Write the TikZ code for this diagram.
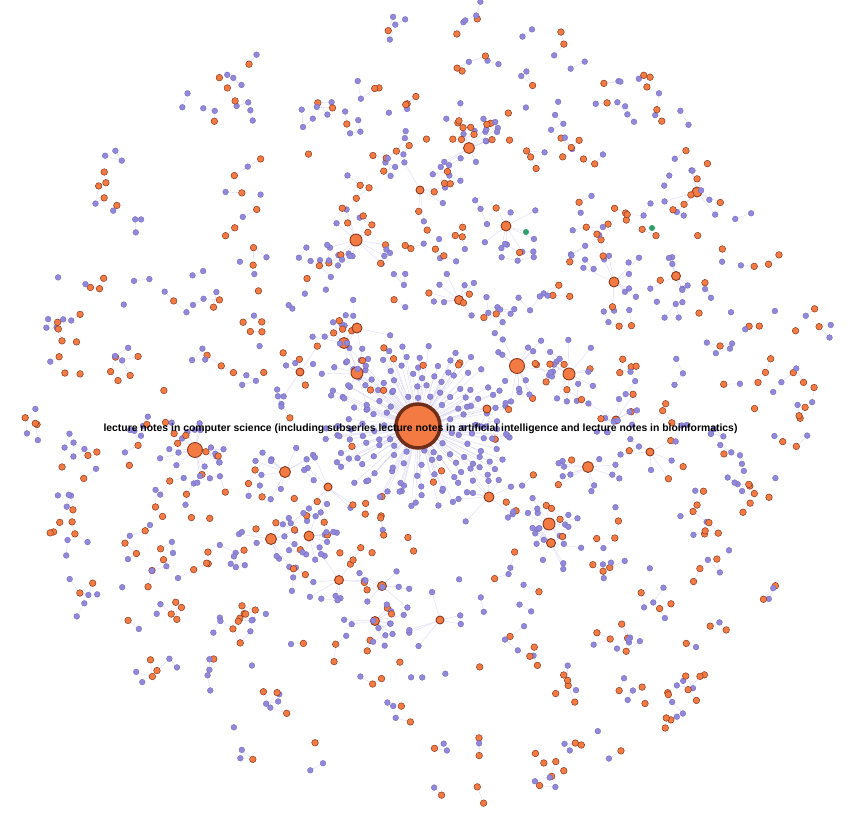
\documentclass[tikz,border=0pt]{standalone}
\usepackage{fontspec}
\setmainfont{Liberation Sans}
\definecolor{pfill}{HTML}{9188DA}
\definecolor{pdraw}{HTML}{6F67BE}
\definecolor{ofill}{HTML}{F47A43}
\definecolor{odraw}{HTML}{8B3A1E}
\definecolor{ecol}{HTML}{DAD6F4}
\definecolor{gfill}{HTML}{2E9E6B}
\definecolor{cbord}{HTML}{6E2E1A}
\tikzset{
  pn/.style={circle,inner sep=0pt,minimum size=5.8pt,fill=pfill,draw=pdraw,line width=0.3pt},
  on/.style={circle,inner sep=0pt,minimum size=6.6pt,fill=ofill,draw=odraw,line width=0.5pt},
  hubnode/.style={circle,inner sep=0pt,fill=ofill,draw=odraw,line width=0.9pt},
  gn/.style={circle,inner sep=0pt,minimum size=6pt,fill=gfill,draw=none},
  ed/.style={draw=ecol,line width=0.35pt},
  ghost/.style={draw=none,fill=none},
  vis/.style={},
}
\newif\ifedgepass
\def\mygraph{%
\pgfmathsetseed{4242}%
\foreach \rr/\nn [count=\q] in {33/15, 45/21, 57/26, 69/31, 81/36, 93/30}{
  \pgfmathsetmacro\off{360*rnd}
  \foreach \i in {1,...,\nn}{
    \pgfmathsetmacro\t{\off+360*\i/\nn+8*rand}
    \pgfmathsetmacro\rj{\rr+3*rand}
    \pgfmathsetmacro\cx{418+\rj*cos(\t)}
    \pgfmathsetmacro\cy{425+0.86*\rj*sin(\t)}
    \pgfmathsetmacro\c{rnd}
    \ifdim\c pt<0.93pt \def\st{pn}\else\def\st{on}\fi
    \node[\st,\pass] (r\q-\i) at (\cx,\cy) {};
    \ifedgepass\draw[ed] (center) -- (r\q-\i);\fi
  }
}
\foreach \hx/\hy/\hs/\hn [count=\h] in {
  195/450/15/14, 356/240/12/12, 469/148/11/12, 517/366/15/14, 569/374/12/10,
  357/373/12/10, 344/343/11/8, 357/328/10/8, 285/472/11/10, 271/539/11/10,
  309/536/10/9, 489/497/10/10, 549/524/12/12, 551/543/9/8, 588/467/11/10,
  614/282/10/10, 676/276/9/8, 697/192/10/8, 506/226/10/8, 382/586/9/8,
  339/580/9/8, 375/621/9/8, 650/452/8/6, 616/420/8/6, 459/300/9/8,
  300/372/8/6, 420/190/8/6, 440/620/8/6, 328/487/8/6, 487/409/8/6}{
  \node[hubnode,minimum size=\hs pt,\pass] (h\h) at (\hx,\hy) {};
  \foreach \j in {1,...,\hn}{
    \pgfmathsetmacro\t{360*rnd}
    \pgfmathsetmacro\d{\hs*0.5+8+22*rnd}
    \pgfmathsetmacro\cx{\hx+\d*cos(\t)}
    \pgfmathsetmacro\cy{\hy+\d*sin(\t)}
    \pgfmathsetmacro\c{rnd}
    \ifdim\c pt<0.85pt \def\st{pn}\else\def\st{on}\fi
    \node[\st,\pass] (h\h-\j) at (\cx,\cy) {};
    \ifedgepass\draw[ed] (h\h) -- (h\h-\j);\fi
  }
}
\foreach \i in {1,...,430}{
  \pgfmathsetmacro\t{360*rnd}
  \pgfmathsetmacro\r{sqrt(0.08+0.92*rnd)}
  \pgfmathsetmacro\gx{427+402*\r*cos(\t)}
  \pgfmathsetmacro\gy{407+395*\r*sin(\t)}
  \pgfmathsetmacro\c{rnd}
  \ifdim\c pt<0.55pt \def\rs{on}\else\def\rs{pn}\fi
  \node[\rs,\pass] (g\i) at (\gx,\gy) {};
  \pgfmathtruncatemacro\k{2.8*rnd}
  \ifnum\k>0
    \foreach \j in {1,...,\k}{
      \pgfmathsetmacro\u{360*rnd}
      \pgfmathsetmacro\d{10+8*rnd}
      \pgfmathsetmacro\cx{\gx+\d*cos(\u)}
      \pgfmathsetmacro\cy{\gy+\d*sin(\u)}
      \pgfmathsetmacro\c{rnd}
      \ifdim\c pt<0.6pt \def\st{pn}\else\def\st{on}\fi
      \node[\st,\pass] (g\i-\j) at (\cx,\cy) {};
      \ifedgepass\draw[ed] (g\i) -- (g\i-\j);\fi
    }
  \fi
}
}
\begin{document}
\begin{tikzpicture}[x=1pt,y=-1pt]
\fill[white] (0,0) rectangle (854,816);
\useasboundingbox (0,0) rectangle (854,816);
\coordinate (center) at (418,426);
% pass 1: connectors between (invisible) named nodes
\edgepasstrue\def\pass{ghost}
\mygraph
\node[gn,ghost] (green1) at (526,232) {};
\draw[ed] (green1) -- (h19);
% pass 2: visible nodes at the same places
\edgepassfalse\def\pass{vis}
\mygraph
\node[circle,inner sep=0pt,minimum size=44pt,fill=ofill,draw=cbord,line width=3.5pt] (center) at (418,426) {};
\node[gn] (green1) at (526,232) {};
\node[gn] (green2) at (652,228) {};
\node[font=\bfseries\fontsize{10.4}{12}\selectfont,inner sep=0pt] (lbl) at (420.5,428.5)
  {lecture notes in computer science (including subseries lecture notes in artificial intelligence and lecture notes in bioinformatics)};
\end{tikzpicture}
\end{document}
